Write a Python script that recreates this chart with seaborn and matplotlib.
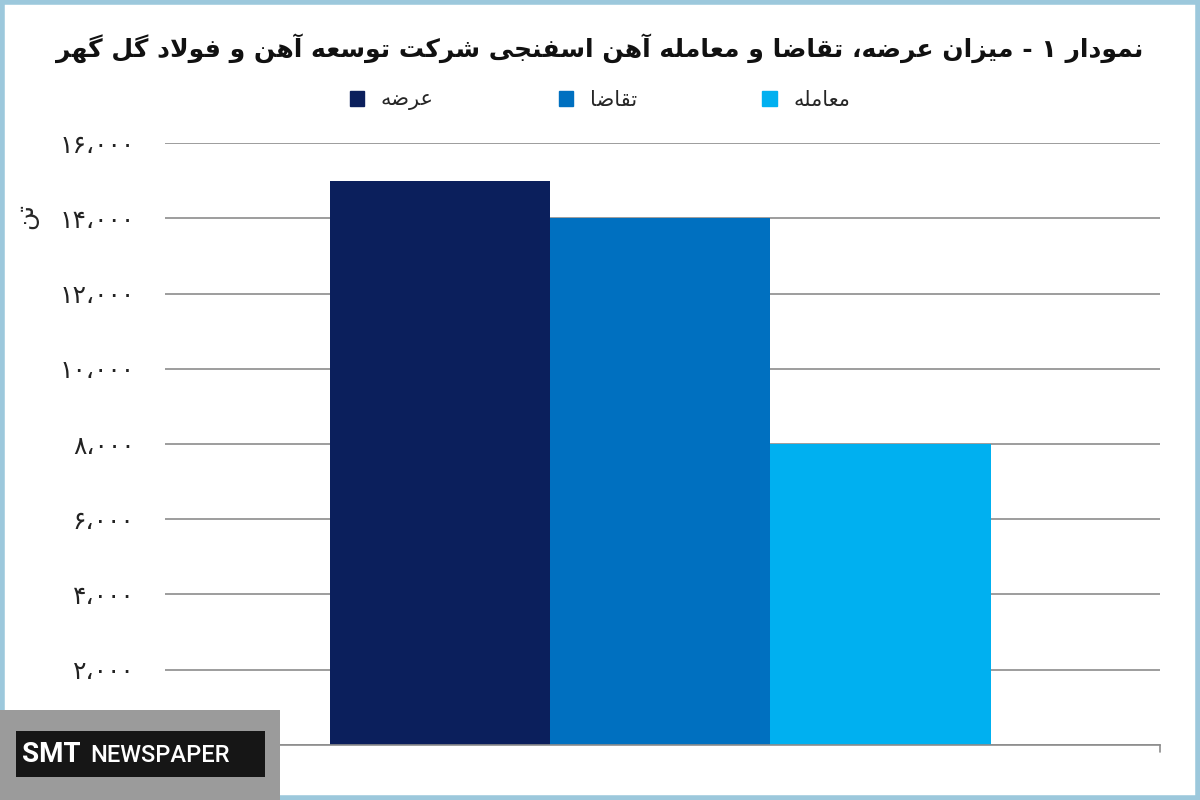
import matplotlib
matplotlib.use("Agg")
import matplotlib.pyplot as plt
import seaborn as sns
from matplotlib.patches import Rectangle, Patch

# ---- minimal Persian shaping (presentation forms) ----
FORMS = {  # iso, fin, ini, med
    'ا': ('\uFE8D', '\uFE8E', None, None), 'آ': ('\uFE81', '\uFE82', None, None),
    'ب': ('\uFE8F', '\uFE90', '\uFE91', '\uFE92'), 'ت': ('\uFE95', '\uFE96', '\uFE97', '\uFE98'),
    'ج': ('\uFE9D', '\uFE9E', '\uFE9F', '\uFEA0'), 'د': ('\uFEA9', '\uFEAA', None, None),
    'ر': ('\uFEAD', '\uFEAE', None, None), 'ز': ('\uFEAF', '\uFEB0', None, None),
    'س': ('\uFEB1', '\uFEB2', '\uFEB3', '\uFEB4'), 'ش': ('\uFEB5', '\uFEB6', '\uFEB7', '\uFEB8'),
    'ض': ('\uFEBD', '\uFEBE', '\uFEBF', '\uFEC0'), 'ع': ('\uFEC9', '\uFECA', '\uFECB', '\uFECC'),
    'ف': ('\uFED1', '\uFED2', '\uFED3', '\uFED4'), 'ق': ('\uFED5', '\uFED6', '\uFED7', '\uFED8'),
    'ل': ('\uFEDD', '\uFEDE', '\uFEDF', '\uFEE0'), 'م': ('\uFEE1', '\uFEE2', '\uFEE3', '\uFEE4'),
    'ن': ('\uFEE5', '\uFEE6', '\uFEE7', '\uFEE8'), 'ه': ('\uFEE9', '\uFEEA', '\uFEEB', '\uFEEC'),
    'و': ('\uFEED', '\uFEEE', None, None), 'ی': ('\uFBFC', '\uFBFD', '\uFBFE', '\uFBFF'),
    'ک': ('\uFB8E', '\uFB8F', '\uFB90', '\uFB91'), 'گ': ('\uFB92', '\uFB93', '\uFB94', '\uFB95'),
}

def shape(s):
    chars = list(s)
    out = []
    i = 0
    n = len(chars)
    def dual(c):
        return c in FORMS and FORMS[c][2] is not None
    while i < n:
        c = chars[i]
        prev = chars[i - 1] if i > 0 else ''
        jp = dual(prev) and c in FORMS
        if c == 'ل' and i + 1 < n and chars[i + 1] in 'اآ':
            lig = ('\uFEFB', '\uFEFC') if chars[i + 1] == 'ا' else ('\uFEF5', '\uFEF6')
            out.append(lig[1] if jp else lig[0])
            i += 2
            continue
        if c in FORMS:
            nxt = chars[i + 1] if i + 1 < n else ''
            jn = dual(c) and nxt in FORMS
            iso, fin, ini, med = FORMS[c]
            if jp and jn:
                out.append(med)
            elif jp:
                out.append(fin)
            elif jn:
                out.append(ini)
            else:
                out.append(iso)
        else:
            out.append(c)
        i += 1
    return ''.join(out[::-1])

# ---- data ----
title = "نمودار ۱ - میزان عرضه، تقاضا و معامله آهن اسفنجی شرکت توسعه آهن و فولاد گل گهر"
categories = ["عرضه", "تقاضا", "معامله"]
values = [15000, 14000, 8000]
colors = ["#0b1f5c", "#0070c0", "#00b0f0"]
yticks = [0, 2000, 4000, 6000, 8000, 10000, 12000, 14000, 16000]
ytick_labels = ["", "۲،۰۰۰", "۴،۰۰۰", "۶،۰۰۰", "۸،۰۰۰", "۱۰،۰۰۰", "۱۲،۰۰۰", "۱۴،۰۰۰", "۱۶،۰۰۰"]
ylabel = "تن"

sns.set_theme(style="white")
plt.rcParams['font.family'] = ['DejaVu Sans']

fig = plt.figure(figsize=(12, 8), dpi=100)
fig.patch.set_facecolor("white")
ax = fig.add_axes([0.1375, 0.069, 0.8292, 0.752])

cats_shaped = [shape(c) for c in categories]
sns.barplot(x=cats_shaped, y=values, hue=cats_shaped, palette=colors, width=1.0,
            dodge=False, legend=False, ax=ax, saturation=1, linewidth=0)
ax.set_xlim(-1.25, 3.27)
ax.set_ylim(0, 16000)
ax.set_yticks(yticks)
ax.set_yticklabels(ytick_labels, fontsize=18, color="#222222")
ax.tick_params(axis='y', length=0, pad=22)
ax.set_xticks([])
ax.set_xlabel("")
ax.yaxis.grid(True, color="#8c8c8c", linewidth=1.2)
ax.set_axisbelow(True)
for s in ["top", "right", "left"]:
    ax.spines[s].set_visible(False)
ax.spines["bottom"].set_color("#8c8c8c")
ax.spines["bottom"].set_linewidth(1.2)
ax.plot([1, 1], [0, -0.012], transform=ax.transAxes, color="#8c8c8c", lw=1.2, clip_on=False)

fig.text(0.022, 0.73, shape(ylabel), rotation=90, fontsize=18, ha="center", va="center")

fig.text(0.5, 0.94, shape(title), fontsize=18, fontweight="bold", ha="center", va="center",
         color="#111111")

handles = [Patch(color=c) for c in colors]
leg = fig.legend(handles, cats_shaped, ncol=3, loc="center", bbox_to_anchor=(0.5, 0.875),
                 frameon=False, fontsize=15, handlelength=0.7, handleheight=0.7,
                 columnspacing=6, handletextpad=0.8)

# light blue frame
fig.patches.append(Rectangle((0.002, 0.003), 0.996, 0.994, transform=fig.transFigure,
                             fill=False, edgecolor="#9cc8dc", linewidth=4))
# watermark
fig.patches.append(Rectangle((0, 0), 280 / 1200, 90 / 800, transform=fig.transFigure,
                             facecolor="#9b9b9b", edgecolor="none", zorder=5))
fig.patches.append(Rectangle((16 / 1200, 23 / 800), 249 / 1200, 46 / 800, transform=fig.transFigure,
                             facecolor="#161616", edgecolor="none", zorder=6))
fig.text(22 / 1200, 46 / 800, "SMT", color="white", fontsize=20, fontweight="bold",
         family="Roboto", va="center", zorder=7)
fig.text(90 / 1200, 45 / 800, "NEWSPAPER", color="white", fontsize=17, fontweight="medium",
         family="Roboto", va="center", zorder=7)

fig.savefig("out.png", dpi=100)
